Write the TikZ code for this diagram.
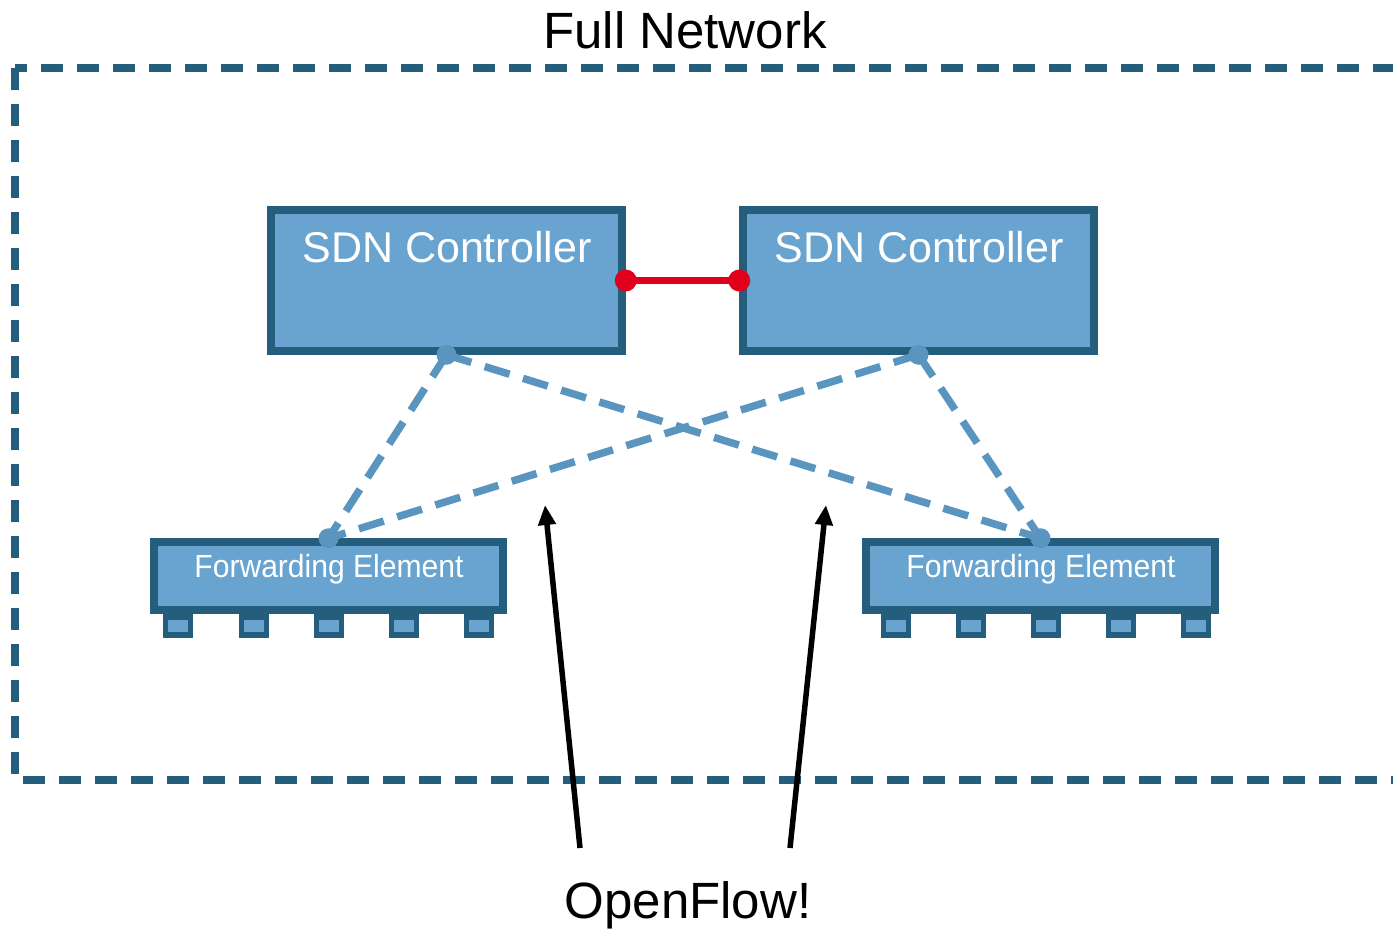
\documentclass[tikz,border=0pt]{standalone}
\usepackage{fontspec}
\setmainfont{Liberation Sans}
\usetikzlibrary{arrows.meta}
\definecolor{bordc}{HTML}{255D7D}
\definecolor{fillc}{HTML}{68A4CF}
\definecolor{linkc}{HTML}{5A95BF}
\definecolor{redc}{HTML}{E0001B}
\tikzset{
  ctrlbox/.style={draw=bordc, fill=fillc, line width=7.5pt, minimum width=351pt, minimum height=141pt, inner sep=0pt},
  febox/.style={draw=bordc, fill=fillc, line width=7.5pt, minimum width=349pt, minimum height=68pt, inner sep=0pt},
  portbox/.style={draw=bordc, fill=fillc, line width=5.5pt, minimum width=25pt, minimum height=18pt, inner sep=0pt},
  ctrltext/.style={text=white, font=\fontsize{43}{50}\selectfont, inner sep=0pt},
  fetext/.style={text=white, font=\fontsize{32}{36}\selectfont, inner sep=0pt},
  bigtext/.style={text=black, font=\fontsize{51}{60}\selectfont, inner sep=0pt},
  ctllink/.style={draw=linkc, line width=7.5pt, dash pattern=on 26pt off 14pt},
  linkdot/.style={fill=linkc},
  redlink/.style={draw=redc, line width=6.5pt},
  reddot/.style={fill=redc},
  netframe/.style={draw=bordc, line width=8.5pt, dash pattern=on 22pt off 14pt},
  ofarrow/.style={draw=black, line width=5.5pt, -{Triangle[length=20pt,width=17pt]}}
}
\begin{document}
\begin{tikzpicture}[x=1pt,y=-1pt]
\useasboundingbox (0,0) rectangle (1393,932);
% frame
\draw[netframe] (15,68) rectangle (1397,780);
\node[bigtext] (title) at (685,30) {Full Network};
% controllers
\node[ctrlbox] (c1) at (446.5,280.5) {};
\node[ctrlbox] (c2) at (918.5,280.5) {};
\node[ctrltext] (c1t) at (447,247) {SDN Controller};
\node[ctrltext] (c2t) at (919,247) {SDN Controller};
% ports
\foreach \i/\x in {1/178,2/254,3/329,4/404,5/479}{
  \node[portbox] (p1\i) at (\x,626) {};
}
\foreach \i/\x in {1/896,2/971,3/1046,4/1121,5/1196}{
  \node[portbox] (p2\i) at (\x,626) {};
}
% forwarding elements
\node[febox] (f1) at (328.5,576) {};
\node[febox] (f2) at (1040.5,576) {};
\node[fetext] (f1t) at (329,569) {\scalebox{0.94}[1]{Forwarding Element}};
\node[fetext] (f2t) at (1041,569) {\scalebox{0.94}[1]{Forwarding Element}};
% dashed links
\draw[ctllink] (c1.south) -- (f1.north);
\draw[ctllink] (c1.south) -- (f2.north);
\draw[ctllink] (c2.south) -- (f1.north);
\draw[ctllink] (c2.south) -- (f2.north);
\fill[linkdot] (c1.south) circle (10pt);
\fill[linkdot] (c2.south) circle (10pt);
\fill[linkdot] (f1.north) circle (10pt);
\fill[linkdot] (f2.north) circle (10pt);
% red link
\draw[redlink] (c1.east) -- (c2.west);
\fill[reddot] (c1.east) circle (11pt);
\fill[reddot] (c2.west) circle (11pt);
% OpenFlow
\node[bigtext] (of) at (688,905) {OpenFlow!};
\coordinate (a1s) at (580,848);
\coordinate (a1e) at (545,505);
\coordinate (a2s) at (790,848);
\coordinate (a2e) at (826,505);
\draw[ofarrow] (a1s) -- (a1e);
\draw[ofarrow] (a2s) -- (a2e);
\end{tikzpicture}
\end{document}
